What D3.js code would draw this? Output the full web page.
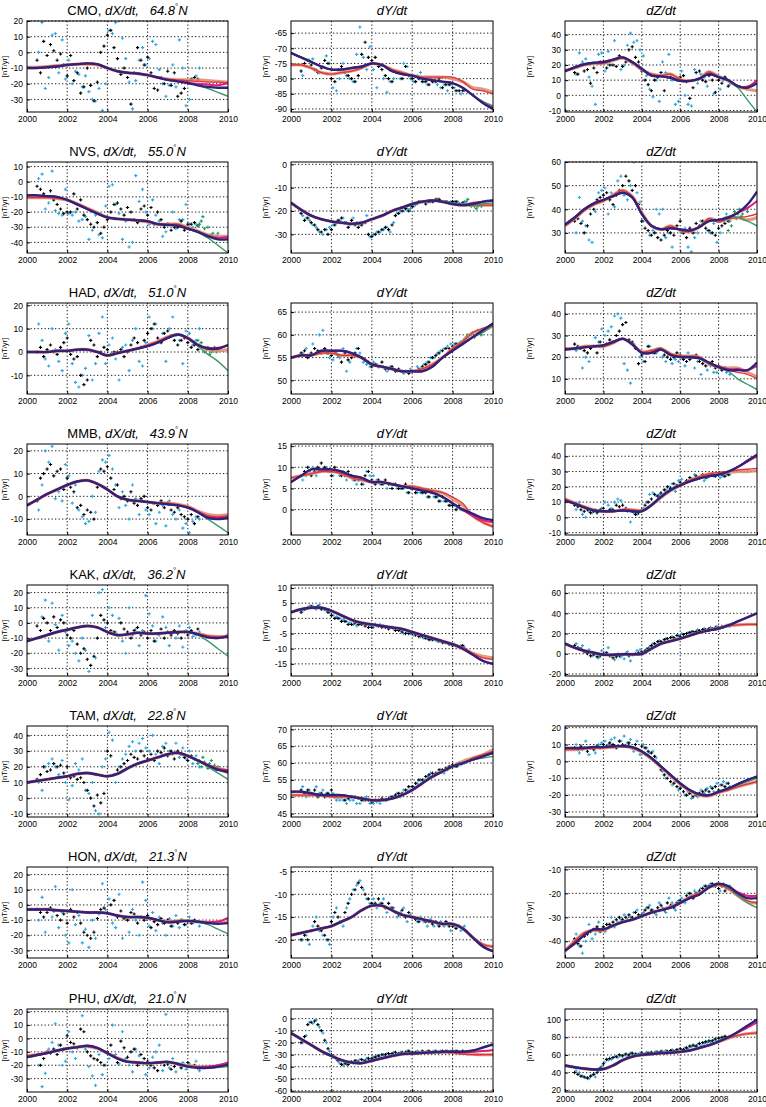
<!DOCTYPE html>
<html><head><meta charset="utf-8">
<script src="https://cdn.jsdelivr.net/npm/d3@7"></script>
<style>
body{margin:0;background:#fff}
svg{display:block}
text{font-family:"Liberation Sans",Arial,Helvetica,sans-serif;white-space:pre}
</style></head><body>
<script>
// ---------------- DATA ----------------
const stations = ["CMO","NVS","HAD","MMB","KAK","TAM","HON","PHU"];
const latitudes = ["64.8","55.0","51.0","43.9","36.2","22.8","21.3","21.0"];
const components = ["dX/dt","dY/dt","dZ/dt"];
const xTicks = [2000,2002,2004,2006,2008,2010];
const knotYears = [2000,2000.5,2001,2001.5,2002,2002.5,2003,2003.5,2004,2004.5,2005,2005.5,2006,2006.5,2007,2007.5,2008,2008.5,2009,2009.5,2010];
const tailYears = [2008,2008.5,2009,2009.5,2010];
const ptTimes = [2000.5,2000.67,2000.83,2001,2001.17,2001.33,2001.5,2001.67,2001.83,2002,2002.17,2002.33,2002.5,2002.67,2002.83,2003,2003.17,2003.33,2003.5,2003.67,2003.83,2004,2004.17,2004.33,2004.5,2004.67,2004.83,2005,2005.17,2005.33,2005.5,2005.67,2005.83,2006,2006.17,2006.33,2006.5,2006.67,2006.83,2007,2007.17,2007.33,2007.5,2007.67,2007.83,2008,2008.17,2008.33,2008.5];
const greenTimes = [2008.5,2008.58,2008.67,2008.75,2008.83,2008.92,2009,2009.08,2009.17,2009.25,2009.33,2009.42,2009.5];

const yDomains = [[-38,20],[-91,-61],[-11,49],[-47,13],[-38,1],[21.5,60],[-18,21],[47,67],[3,45],[-17,23],[-6,15.5],[-11.5,48],[-35,25],[-19,11],[-22,68],[-12,46],[44,71],[-33,21],[-35,25],[-24,-4],[-47,-9],[-40,22],[-61,8],[18,112]];
const yTicks = [[-30,-20,-10,0,10,20],[-90,-85,-80,-75,-70,-65],[-10,0,10,20,30,40],[-40,-30,-20,-10,0,10],[-30,-20,-10,0],[30,40,50,60],[-10,0,10,20],[50,55,60,65],[10,20,30,40],[-10,0,10,20],[0,5,10,15],[-10,0,10,20,30,40],[-30,-20,-10,0,10,20],[-15,-10,-5,0,5,10],[-20,0,20,40,60],[-10,0,10,20,30,40],[45,50,55,60,65,70],[-30,-20,-10,0,10,20],[-30,-20,-10,0,10,20],[-20,-15,-10,-5],[-40,-30,-20,-10],[-30,-20,-10,0,10,20],[-60,-50,-40,-30,-20,-10,0],[20,40,60,80,100]];

const blueLine = [
[-10,-10,-9.5,-9,-8,-7.5,-7,-7.5,-10,-12,-13,-13.5,-14.5,-16,-17.5,-18.5,-19.5,-21,-22,-22.5,-22.5],
[-71.5,-73,-74.5,-76,-77,-77,-76.5,-76,-75,-75.5,-77.5,-78.5,-79,-80,-80.5,-81,-81.5,-83,-85.5,-88,-90],
[16,18.5,20.5,21.5,22,23.5,25,22,17.5,13,12.5,11.5,9.5,9.5,11,14,12,10,6,5,8],
[-9,-9,-9.5,-10,-12,-15,-18,-21,-23.5,-24.5,-25,-25.5,-26,-28,-28.5,-29,-31,-33,-36,-38,-38],
[-16.5,-19.5,-22,-23.5,-24.5,-25,-25.5,-25,-23.5,-22,-20,-18.5,-17,-16,-15.5,-16,-17,-17.5,-17,-16,-15.5],
[33.5,36.5,40,42.5,44,45.5,47,45,38,33,31.5,32,31.5,31,32.5,35,35.5,36.5,38.5,42,47.5],
[0,0,0,0.5,0.5,1,1,0,-1.5,-0.5,0.5,1.5,2.5,4,6,7.5,6,3,1.5,1.5,3],
[55,55.5,55.5,56.5,56.5,56.5,56,55,53.5,53,52.5,52,52,52,53,55,56.5,58,59.5,61,62.5],
[23.5,24,24.5,25,25.5,27,28.5,26,22,22,23.5,21,20,20,19.5,17.5,15.5,14,14,14,17.5],
[-4,-1.5,1,3,5,6.5,7,5.5,3,0,-1.5,-2,-2.5,-3,-3.5,-4,-5,-7,-9.5,-10,-9.5],
[6.5,8,9.5,9.5,9.5,9,8,7.5,6.5,6.5,6,5.5,5,4.5,4,3,1.5,0,-1,-2,-2.5],
[11,9,6.5,4.5,4,4,4.5,4,4,8,13.5,18,21,23.5,25.5,27,28,30,33,37,41],
[-12,-10,-8,-6,-4.5,-3,-2,-3,-6,-8,-7.5,-6.5,-7,-7,-6.5,-6,-6,-7.5,-9.5,-10,-9],
[2,3,3.5,3.5,2.5,1,-0.5,-1.5,-2,-2.5,-3,-3.5,-4.5,-5.5,-6.5,-7.5,-8.5,-10,-12,-14,-15],
[10,6,3,1,-1,-1,-0.5,-0.5,0,5,10,12.5,15,18,21,23,25,28,32,36,40],
[10,11,12,13,14,15.5,16,15,14,15.5,19,22,24,26,28,29,27,24,21,18,17],
[51.5,51.5,51,50.5,50.5,50.5,50,49.5,49,49,49.5,50.5,52,54,56,57.5,59,60,61,62,63],
[8,8,8,8.5,8.5,9,9,8.5,6,2,-3,-8,-13,-17,-19.5,-20,-18,-16,-13.5,-11,-9],
[-3,-3,-3,-3.5,-4,-4.5,-5,-5,-5.5,-7,-8,-8,-8.5,-10,-11.5,-11,-10.5,-11,-12,-12.5,-12],
[-19,-18.5,-18,-17.5,-17,-16,-15,-13.5,-12.5,-12.5,-13.5,-14.5,-15,-15.5,-16,-16.5,-16.5,-17.5,-19.5,-21.5,-22.5],
[-44,-41,-37.5,-35,-35,-33.5,-32,-31,-29.5,-28,-27,-26,-24,-22,-20.5,-17.5,-16,-17,-20,-22,-22],
[-14,-12.5,-11,-9,-7.5,-6.5,-5.5,-7,-11,-15,-17.5,-18,-18.5,-18,-17.5,-19,-21,-22,-22,-21,-19.5],
[-12,-17,-22,-27,-31,-34.5,-36.5,-37,-35,-33,-31,-29.5,-29,-28.5,-28,-27.5,-27.5,-27.5,-26.5,-24,-21.5],
[48,46,44.5,43.5,44,48,54,58,60,61,62,62.5,63.5,65,68,71,75,80,86,93,100]];

const redLine = [
[-9.5,-9.5,-9,-8.5,-8,-7.5,-7.5,-8,-10,-12,-13,-13.5,-14.5,-16,-17,-17.5,-18,-18.5,-19,-19,-19.5],
[-75.5,-75.5,-76.5,-78,-78.5,-78,-77.5,-76.5,-75,-75.5,-77,-78,-79,-79.5,-79.5,-79.5,-79.5,-81,-83.5,-84,-85],
[16,18,20,21,21,23,24.5,21.5,17,14,13,14,10.5,9.5,11,15.5,12,10,6,6,10],
[-10.5,-10.5,-10.5,-11,-12,-14.5,-17.5,-20.5,-23.5,-24.5,-25,-25.5,-26.5,-28,-28,-28,-30.5,-33,-36,-37,-37],
[-16.5,-19.5,-22,-23.5,-24.5,-25,-25.5,-25,-23.5,-22,-20,-18.5,-17,-16,-15.5,-16,-17,-17.5,-17.5,-17.5,-17.5],
[33,36,39.5,42,43.5,46,48,45.5,38.5,33,31.5,33,31,30.5,32.5,36,34.5,36,36.5,37,38],
[0,0,0,0.5,0.5,1,1,0,-1.5,-0.5,0.5,1.5,3,4.5,6.5,7.5,5.5,3,2,2,2.5],
[55,55.5,55.5,56,56,55.5,55.5,55,53.5,53,52.5,52,52,52.5,53.5,55,57,58.5,60.5,61.5,62],
[24,24,25,25,25,26.5,28.5,26,22.5,23,24,21.5,20.5,20.5,20,17,15,14,13,12,10],
[-4,-1.5,1,3,5,6.5,7,5.5,3,0,-1.5,-2,-2.5,-3,-3,-3.5,-4.5,-6.5,-8.5,-9,-8.5],
[7.5,8,8.5,9,9,8.5,7.5,7,6.5,6.5,6,5.5,5.5,5,4.5,4,3,1.5,-1.5,-3,-4],
[12,9.5,7,5,4,4,5,5,4.5,8,13,17.5,21,24,26.5,28.5,29.5,30,31,31.5,32],
[-12,-10,-8,-6,-4.5,-3,-2,-3,-6,-8,-7.5,-6.5,-7,-7,-6.5,-6,-6,-7,-8.5,-9,-9],
[2,3,3.5,3.5,2.5,1,-0.5,-1.5,-2,-2.5,-3,-3.5,-4.5,-5.5,-6.5,-7.5,-8.5,-9.5,-11.5,-13,-13.5],
[10,6,3,1,-1,-1,-0.5,-0.5,0,5,10,12.5,15,18,21,23.5,25.5,27.5,28.5,29,29],
[10,11,12,13,14,15.5,16,15,14,15.5,19,22,24,26,28,28.5,26.5,24,21,19,18],
[50.5,50.5,50.5,50.5,50,50,50,49.5,49,49,49.5,50.5,52,54,56,57.5,59,60,61.5,62.5,63.5],
[7,7,7.5,8,8,8.5,9,8,5.5,1.5,-3.5,-8.5,-13.5,-17.5,-20,-20.5,-18.5,-17,-15,-13.5,-12],
[-3,-3,-3,-3.5,-4,-4.5,-5,-5,-5.5,-7,-8,-8,-8.5,-10,-11,-10.5,-10.5,-11,-11.5,-11,-9],
[-19,-18.5,-18,-17.5,-17,-16,-15,-13.5,-12.5,-12.5,-13.5,-14.5,-15,-15.5,-16,-16.5,-16.5,-17.5,-19.5,-21,-21.5],
[-44,-40,-36.5,-35.5,-35.5,-33.5,-32,-31,-29.5,-28,-27,-25.5,-24,-21.5,-20,-17.5,-16.5,-18,-21,-23,-24],
[-13,-12,-10.5,-9,-7.5,-6.5,-6,-7.5,-11,-14.5,-17,-18,-18.5,-18,-17.5,-19,-20.5,-21,-21,-20,-18.5],
[-12,-17,-22,-27,-31,-34.5,-36.5,-37,-35,-33,-31,-29.5,-29,-28.5,-28,-28,-28.5,-29.5,-30,-30,-30],
[48,46,44.5,43.5,44,48,54,58,60,61,62,62.5,63.5,65,68,71,75,79,82,84,85]];

const orangeTail = [[-17.5,-17.5,-18,-18.5,-19],[-80,-81,-83,-83.5,-84.5],[12.5,9.5,6,4,3],[-30,-32.5,-35,-36,-36],[-17,-17.5,-17.5,-17.5,-17.5],[35,36,36.5,35.5,36.5],[6,3,1,0.5,1],[57,58.5,60.5,61,62],[15.5,15,15,13,11],[-4.5,-6.5,-8,-8.5,-8],[2.5,1,-1.5,-3,-4],[28.5,29.5,30,30,30.5],[-6,-7,-8.5,-9,-9],[-8.5,-10,-11.5,-12.5,-13],[25.5,27.5,28.5,29,29],[27,24,21,19,17.5],[59,60.5,61.5,62.5,64],[-18.5,-17,-15,-13.5,-12],[-10.5,-11,-11.5,-11.5,-11.5],[-16.5,-17.5,-19.5,-21,-21.5],[-16.5,-18,-21,-23.5,-24],[-20.5,-21,-21.5,-21,-20],[-28,-29,-29.5,-30,-30],[75,79,82,84,85]];
const magentaTail = [[-19.5,-20,-20.5,-21,-19.5],[-81.5,-83,-85.5,-88,-89.5],[12,10,6,5.5,10],[-31,-33,-35.5,-37,-36.5],[-17,-17.5,-16.5,-16,-15.5],[35.5,36.5,38.5,40.5,43.5],[6,3,1.5,1.5,3],[56.5,58,59.5,61,62.5],[15.5,14.5,14.5,14,16],[-5,-7,-9,-9.5,-9],[1.5,0,-1.5,-2.5,-3],[28,30,33,36.5,40],[-6,-7.5,-9.5,-10,-8],[-8.5,-10,-12,-14,-15],[25,28,32,36,40],[27,24,21,18.5,16],[59,60,61,62,63],[-18,-16,-13.5,-11,-9],[-10.5,-11,-11.5,-11,-8.5],[-16.5,-17.5,-19.5,-21.5,-22.5],[-16,-17,-19.5,-21,-21],[-21,-21.5,-21,-20,-18],[-27.5,-28,-27.5,-27,-26],[75,80,85.5,91,97]];
const greenTail = [[-19.5,-21,-23,-25.5,-28],[-81.5,-83,-85.5,-87.5,-89],[12,10,5,-3,-11],[-31,-33.5,-37,-42,-47],[-17,-17.5,-17.5,-17,-16.5],[35.5,37,36.5,35,33],[6,2.5,-1,-4,-8],[56.5,58,59.5,60.5,62],[15.5,13.5,10,7.5,5],[-5,-7,-10,-13,-16],[1.5,0,-1.5,-2.5,-3],[28,30,33,36.5,40.5],[-6,-8,-12,-17,-22],[-8.5,-10,-12,-14,-15],[25,28,32,36,40],[27,24,20,16,12],[59,60,61,61.5,62],[-18,-16,-14,-12,-10],[-10.5,-11.5,-13,-16,-19],[-16.5,-17.5,-19.5,-21.5,-22.5],[-16,-17.5,-21,-24,-26],[-21,-22,-22,-21.5,-21],[-27.5,-28,-27.5,-27,-26.5],[75,80,86,93,100]];

const blackPts = [
[-5,-13,7,-2,5,1,-5,-1,-8,-15,-2,-18,-13,-26,-22,-10,-21,-31,-19,0,4,11,14,3,-4,-14,-10,-16,-33,-13,3,-5,-8,-3,-13,-23,-24,-16,-20,-12,-21,-13,-28,-26,-23,-19,-17,-16,-17],
[-77.5,-75,-74,-75.5,-77,-78,-76.5,-74,-75,-80,-81,-77,-76,-78,-79,-80,-81,-79,-72,-68,-73,-74,-73,-76,-77,-79,-80,-81,-77.5,-78,-80,-76,-79,-80,-81,-80,-81,-81,-82,-81,-81,-80,-83,-82,-82,-83,-84,-84,-84],
[15,14,20,16,17,8,18,15,22,22,18,20,20,19,26,19,22,30,32,25,22,16,10,7,3,10,12,15,3,12,12,11,10,12,13,9,-2,5,15,16,10,9,13,10,2,10,8,12,6],
[-3,-5,-8,-10,-6,-12,-15,-18,-21,-20,-20,-8,-18,-12,-22,-25,-28,-30,-27,-34,-30,-25,-20,-15,-14,-18,-22,-17,-20,-25,-27,-18,-16,-22,-17,-28,-20,-25,-30,-28,-32,-30,-30,-26,-32,-28,-28,-27,-29],
[-21,-24,-23,-25,-26,-28,-29,-28,-30,-28,-26,-24,-23,-25,-27,-24,-26,-27,-26,-25,-30,-31,-30,-29,-28,-27,-28,-26,-22,-21,-20,-19,-20,-18,-17,-16,-16,-17,-16,-16,-15,-15,-16,-16,-16.5,-16,-16,-17,-16.5],
[35,36,34,30,33,38,40,44,45,46,47,44,42,46,48,50,54,52,48,50,42,35,32,31,29,30,28,27,29,31,30,29,33,35,30,28,32,30,34,33,35,32,31,30,29,32,33,34,35],
[0,2,-2,1,3,0,-1,2,4,6,-1,-3,-2,-10,-14,-12,5,3,-2,0,2,1,-1,0,0,1,-2,0,3,6,4,2,5,8,10,12,6,4,8,9,7,5,3,5,6,4,2,3,1],
[56,56.5,55,56,57,56.5,56,57,56,55.5,56,55.5,54,56,54.5,55,56,57,55,54.5,54,53,53.5,53,54,52.5,52.5,53,52,52.5,52,52,51.5,52,52,52.5,53,53.5,54,55,55.5,56,56.5,57,57,57.5,58,58,58.5],
[26,25,24,23,22,24,25,22,27,25,26,28,27,30,32,35,36,28,27,24,17,21,18,25,23,22,23,24,21,20,19,20,22,21,19,18,19,20,21,18,17,16,17,18,15,16,14,15,14],
[-2,8,10,12,14,9,11,12,3,8,4,2,-5,-4,-8,-6,-7,-10,4,12,11,13,8,3,5,-1,0,-2,2,-3,-4,-1,0,-5,-6,-3,-4,-2,-5,-3,-6,-7,-5,-8,-9,-10,-8,-12,-9],
[8,9,10,8,9,10,11,10,9,8,10,9,8,8,9,8,7,7,6,8,9,7,6,7,6,7,6,5,6,5,5,6,4,5,4,5,4,4,3,4,3,2,3,2,1,1,0,1,0],
[8,7,5,4,5,3,4,3,5,6,4,5,5,8,7,8,6,5,4,2,3,5,8,10,12,15,14,16,18,20,19,22,21,23,22,24,26,25,27,26,28,26,27,28,27,29,28,27,28],
[-2,-5,3,0,-5,4,-3,2,0,-8,-10,-5,-14,-20,-17,-24,-28,-22,-10,5,2,0,-5,-6,-8,0,-4,-6,-10,-5,-3,-8,-6,-10,-5,-12,-7,-4,-10,-6,-8,-5,-7,-10,-6,-8,-5,-7,-4],
[2,3,3.5,4,3.5,4,3,3,2,1,0,0,-1,-1,-2,-2,-1.5,-2,-2,-2.5,-3,-3,-2,-2.5,-3,-3,-3.5,-3,-4,-4,-4.5,-5,-5,-5,-5.5,-6,-6,-6.5,-7,-7,-7,-7.5,-8,-8,-8.5,-9,-9,-9.5,-9],
[8,6,5,2,0,-2,-1,-3,-2,0,1,-2,-4,-3,-2,-1,0,-2,-1,0,1,2,3,5,8,10,12,12,14,15,16,16,18,17,19,20,21,22,22,23,24,24,25,25,26,26,27,27,28],
[12,15,20,17,18,22,20,21,16,20,13,14,12,13,10,5,0,-5,2,-3,3,30,27,15,18,20,22,24,28,26,25,30,27,25,28,24,30,29,32,27,30,25,30,28,26,24,27,25,24],
[52,51,52,51,52,50,51,50,51,52,50,50,50,49,49.5,50,50,49.5,49,49,49,48.5,49,49,49.5,49,49.5,50,50.5,51,51,52,53,53,54,55,55,56,56.5,57,57,58,58,58.5,59,59.5,59,60,60],
[8,7,9,8,6,8,7,9,8,10,9,11,10,8,12,10,9,11,8,10,7,9,8,6,5,3,-1,-5,-8,-10,-12,-13,-15,-16,-18,-20,-19,-21,-20,-19,-18,-17,-18,-16,-15,-17,-14,-15,-13],
[-3,-5,-8,-5,-2,-4,-7,-10,-6,-12,-3,-8,-5,-12,-18,-20,-22,-18,-9,-3,-2,-5,0,3,-8,-4,-9,-10,-5,-6,-12,-8,-10,-7,-15,-11,-13,-9,-12,-10,-14,-11,-12,-10,-13,-11,-12,-10,-11],
[-20,-19,-20,-18,-16,-17,-18,-19,-20,-16,-14,-15,-16,-14,-12,-10,-9,-7.5,-8.5,-10,-11,-12,-12,-11,-12,-13,-12,-13,-14,-14.5,-13.5,-15,-14,-15,-15.5,-16,-15.5,-16,-16,-16.5,-16,-17,-16.5,-16,-17,-17,-17.5,-17,-17.5],
[-39,-41,-42,-38,-37,-36,-35,-34,-36,-34,-33,-33,-32,-31,-30,-31,-30,-29,-30,-28,-29,-29,-27,-26,-27,-28,-26,-25,-27,-24,-25,-26,-24,-23,-23,-21,-20,-22,-20,-19,-18,-17,-17,-16,-17,-18,-17,-19,-18],
[-12,-20,-15,-10,-11,-8,-12,-5,-8,2,-3,-4,-7,7,5,-10,-13,-15,-16,-18,-20,-10,-5,-13,-18,-2,-7,-14,-10,-8,-20,-12,-15,-17,-20,-22,-24,-18,-20,-19,-23,-21,-19,-22,-20,-18,-21,-20,-22],
[-20,-15,-5,-3,-2,-5,-10,-18,-25,-30,-32,-35,-38,-37,-38,-36,-35,-36,-34,-35,-33,-33,-32,-31,-30,-30,-29,-29,-28,-29,-28,-28,-27,-28,-28,-28,-27,-28,-27,-28,-27,-28,-27,-27,-28,-27,-27,-28,-27],
[40,38,36,35,34,36,38,40,45,50,55,56,57,58,60,59,61,60,62,61,60,62,61,62,63,62,63,64,62,64,65,64,66,67,66,68,70,71,70,73,74,75,76,76,78,79,80,81,80]];

const cyanPts = [
[0,19,-23,-16,11,12,-13,8,-17,-5,-20,-12,-14,-22,-15,-25,-30,-31,-23,-37,-20,14,12,19,20,9,-4,-19,-36,-18,-5,3,-8,-4,7,5,-11,-20,-28,-21,-8,-22,8,-10,-34,-30,-17,-15,-10],
[-79,-76,-74,-73.5,-77,-78,-76,-72.5,-75,-83,-84,-80,-75,-79,-80,-81,-72,-63,-73,-77,-69.5,-77,-83,-76,-80,-84.5,-81,-80,-78,-80,-75,-76,-80,-81,-79,-78,-81,-82,-80,-81,-82,-83,-82,-84,-82,-83,-84,-85,-84],
[14,28,22,24,12,6,-6,27,28,16,29,20,36,24,17,20,33,41,35,36,30,26,13,4,-1,10,-4,22,15,27,10,-6,-4,16,0,-6,-7,17,8,14,12,6,15,1,13,4,10,11,7],
[2,5,-18,-14,7,-19,-21,-22,-5,-21,-22,-20,-26,-25,-23,-38,-32,-22,-35,-37,-16,-3,-2,-15,-21,-38,-26,-43,-40,4,-13,-5,-20,-28,-12,-22,-26,-36,-33,-28,-20,-31,-25,-25,-15,-28,-30,-28,-28],
[-22,-23,-24,-26,-27,-29,-30,-28,-27,-26,-25,-24,-23,-25,-26,-23,-25,-26,-25,-22,-31,-30,-29,-29,-28,-27,-29,-25,-21,-20,-20,-19,-19,-18,-17,-16,-16,-16,-16,-16,-15,-15.5,-16,-16,-16,-16,-16,-17,-16],
[30,45,35,33,27,26,39,47,48,49,38,47,41,52,54,46,44,50,60,47,43,35,21,29,31,40,38,40,28,30,24,21,20,30,32,24,22,28,30,35,34,31,30,34,26,30,35,38,36],
[12,5,-3,-6,10,1,-4,-8,8,12,-5,-13,-15,-10,-7,7,-12,-5,8,15,-5,3,6,-3,-12,2,3,-8,5,10,-4,-6,4,15,10,12,5,8,-4,10,15,7,5,-5,9,8,3,5,10],
[56,57,55.5,58,56,60,61,56,55,54.5,56,55,57,52,54,55.5,57,56,54,53.5,53,54,53.5,53,53,52,53,52.5,52,52,51.5,52,52.5,52,53,52.5,53.5,54,55,55,56,56.5,57,57.5,58,58,58,58.5,59],
[23,24,15,20,18,25,29,27,33,30,32,34,39,40,38,17,14,8,26,24,20,18,22,25,22,22,24,20,18,22,17,19,18,20,16,22,20,15,18,12,18,14,16,13,13,15,15,13,12],
[-6,5,20,15,22,-1,2,-2,14,9,-3,5,-6,-9,-12,-11,0,-7,11,16,15,18,12,5,-5,2,-4,-10,5,-1,-8,-2,-6,-8,-3,-12,-7,-4,-13,-2,-8,-10,-6,-14,-12,-16,-11,-9,-10],
[7,8,9,10,8,9,9.5,10,9,8,9,8,9,7,8,7,6,7,6,9,8,8,7,6,6,5,6,6,5,5,5,4,5,5,4,4,4,3,4,3,3,2,2,2,1,1,0.5,0,0],
[5,10,2,0,4,3,5,4,6,10,8,6,10,12,11,5,4,-3,3,2,4,6,10,15,16,14,15,14,18,20,22,17,24,25,23,24,25,28,26,27,24,26,28,27,28,26,27,29,28],
[-10,4,15,-12,13,-1,-18,5,-6,-15,-12,-20,-25,-10,-18,-32,5,-23,20,22,-3,10,5,-6,3,-12,-20,10,-8,-4,-15,-5,18,6,-2,-12,-8,4,-3,-15,-6,-10,-2,-16,-5,-3,-9,-8,-6],
[2.5,3,4,4,3,4.5,3,2.5,2,1,0.5,0,-0.5,-1,-1.5,-2,-2.5,-2,-1.5,-2,-2.5,-3,-2.5,-2,-2.5,-3,-3,-3.5,-3.5,-4,-5,-4.5,-5,-5.5,-5,-6,-6.5,-6.5,-7,-7,-7.5,-7.5,-8,-8,-8.5,-8.5,-9,-9,-9.5],
[10,5,8,2,4,-2,0,-4,3,1,6,-2,-6,0,-3,-5,2,-7,-1,3,4,0,5,7,10,8,13,11,15,12,17,14,18,20,17,21,22,20,24,22,25,23,26,24,27,25,26,28,27],
[10,5,20,22,25,20,15,24,10,-1,8,22,18,25,5,3,10,-8,-10,20,25,42,37,10,20,25,28,33,36,30,35,38,32,30,40,28,22,33,35,30,28,35,26,32,25,30,22,27,20],
[53,50,52,51,53,51,52,51,50,51,49,49,49,48,49,49,48,48,49,50,48,48,48.5,48,49,49,50,50,51,50,52,52,52,53,54,55,55,56,57,56,57,58,57,58,59,59,59,59.5,60],
[10,5,7,12,4,8,5,10,11,12,10,13,14,9,12,15,11,13,6,12,4,10,8,5,6,2,-2,-6,-10,-8,-14,-12,-17,-15,-20,-18,-22,-19,-21,-17,-19,-16,-15,-18,-13,-14,-12,-13,-15],
[-10,5,-18,-3,-8,12,-15,-5,-20,-25,10,-13,-7,-25,-16,-28,-10,-22,-6,14,-3,4,-12,-15,7,-22,-8,-18,-3,-10,-20,15,3,-14,-5,-17,-8,-12,-20,-9,-14,-7,-15,-10,-13,-8,-12,-11,-14],
[-20,-19,-21,-17,-15,-18,-19,-20,-21,-15,-13,-16,-17,-13,-11,-9,-8,-7,-9,-11,-12,-11,-13,-12,-11,-14,-13,-13,-15,-14,-13,-16,-14.5,-15,-16,-15,-16,-17,-15.5,-17,-16.5,-16,-17,-16.5,-18,-17,-17,-18,-17],
[-37,-42,-45,-40,-33,-39,-37,-32,-35,-36,-33,-30,-34,-32,-31,-29,-31,-30,-28,-27,-30,-28,-26,-25,-27,-29,-24,-26,-28,-22,-24,-27,-23,-22,-24,-20,-21,-19,-20,-18,-17,-18,-16,-17,-16,-19,-16,-18,-17],
[-20,-36,-26,-8,-3,11,-5,-20,-17,5,-10,-15,-6,17,-8,-21,-28,-35,-12,-27,-20,-15,10,-12,-19,5,-15,-20,-25,-8,-13,-18,-27,-22,-14,-10,-5,-24,18,-22,-15,-25,-20,-18,-23,-19,-21,-17,-24],
[-20,-14,-3,-4,-1,-7,-12,-20,-27,-32,-34,-37,-39,-38,-36,-37,-35,-34,-35,-33,-34,-32,-31,-32,-30,-29,-30,-28,-29,-28,-29,-27,-28,-28,-27,-29,-28,-27,-28,-27,-28,-27,-28,-27,-27,-28,-27,-28,-28],
[42,40,36,34,33,37,35,42,47,52,54,55,58,57,59,60,58,62,60,61,62,60,63,62,61,64,62,64,65,63,66,65,64,66,68,67,69,70,72,71,73,74,75,77,76,78,79,80,81]];

const greenPts = [null,null,null,
[-29,-28,-26,-23,-31,-36,-30,-36,-35,-34,-37,-36,-34],
[-17,-17.5,-16,-15,-17,-18,-17,-18,-19,-18,-17,-18,-17],
[31,35,33,37,39,36,38,40,37,38,40,41,39],
[5,3,4,2,0,1,2,-1,0,1,2,0,1],
[58,59,59.5,60,59,60,60.5,59.5,60,61,60.5,60,61],
null,
null,null,null,null,null,null,
[22,24,20,26,23,21,19,22,24,20,21,18,20],
null,null,null,null,null,null,null,null];

// ---------------- DRAW ----------------
const W = 766, H = 1107;
const svg = d3.select("body").append("svg").attr("width", W).attr("height", H);
const colX = [[27,228],[291,493],[565,757]];
const ylabOff = [20,23,33];
const rowY = r => r < 7 ? [21 + r*141, 112 + r*141] : [1009, 1092];
const fmt = d => d < 0 ? "-" + Math.abs(d) : String(d);
const plus = "M-1.6,0H1.6M0,-1.6V1.6";

for (let r = 0; r < 8; r++) {
  for (let c = 0; c < 3; c++) {
    const p = r*3 + c;
    const [x0, x1] = colX[c], [y0, y1] = rowY(r);
    const x = d3.scaleLinear().domain([2000, 2010]).range([x0, x1]);
    const y = d3.scaleLinear().domain(yDomains[p]).range([y1, y0]);
    const g = svg.append("g");
    const cid = "clip" + p;
    svg.append("clipPath").attr("id", cid).append("rect")
      .attr("x", x0).attr("y", y0).attr("width", x1 - x0).attr("height", y1 - y0);

    // grid
    g.append("g").selectAll("line").data(yTicks[p]).join("line")
      .attr("x1", x0).attr("x2", x1).attr("y1", d => y(d)).attr("y2", d => y(d))
      .attr("stroke", "#000").attr("stroke-width", 0.9).attr("stroke-dasharray", "1.3,2.2");
    g.append("g").selectAll("line").data(xTicks.slice(1, -1)).join("line")
      .attr("x1", d => x(d)).attr("x2", d => x(d)).attr("y1", y0).attr("y2", y1)
      .attr("stroke", "#000").attr("stroke-width", 0.9).attr("stroke-dasharray", "1.3,2.2");

    // axes
    const ax = g.append("g").attr("transform", `translate(${x0},0)`)
      .call(d3.axisLeft(y).tickValues(yTicks[p]).tickSize(-3).tickPadding(4).tickFormat(fmt));
    const bx = g.append("g").attr("transform", `translate(0,${y1})`)
      .call(d3.axisBottom(x).tickValues(xTicks).tickSize(-3).tickPadding(4).tickFormat(d3.format("d")));
    [ax, bx].forEach(a => {
      a.select(".domain").remove();
      a.selectAll("text").attr("font-size", 8.5).attr("fill", "#000")
        .attr("font-family", '"Liberation Sans",Arial,sans-serif');
      a.selectAll("line").attr("stroke", "#000");
    });

    const pg = g.append("g").attr("clip-path", `url(#${cid})`);
    // points
    pg.append("g").selectAll("path").data(cyanPts[p]).join("path")
      .attr("d", plus).attr("transform", (d, i) => `translate(${x(ptTimes[i] + 0.08)},${y(d)})`)
      .attr("stroke", "#2aa9e0").attr("stroke-width", 1.1);
    pg.append("g").selectAll("path").data(blackPts[p]).join("path")
      .attr("d", plus).attr("transform", (d, i) => `translate(${x(ptTimes[i])},${y(d)})`)
      .attr("stroke", "#000").attr("stroke-width", 1.1);
    if (greenPts[p]) {
      pg.append("g").selectAll("path").data(greenPts[p]).join("path")
        .attr("d", plus).attr("transform", (d, i) => `translate(${x(greenTimes[i])},${y(d)})`)
        .attr("stroke", "#1f9a5a").attr("stroke-width", 1.1);
    }

    // lines
    const line = d3.line().x(d => x(d[0])).y(d => y(d[1])).curve(d3.curveCatmullRom.alpha(0.5));
    const withTail = (base, tail) => knotYears.slice(0, 16).map((t, i) => [t, base[i]])
      .concat(tailYears.map((t, i) => [t, tail[i]]));
    const full = arr => knotYears.map((t, i) => [t, arr[i]]);
    const series = [
      {d: withTail(redLine[p], orangeTail[p]), c: "#d98a6c", w: 3.2, o: 0.85},
      {d: full(redLine[p]), c: "#e3323c", w: 1.3, o: 1},
      {d: withTail(blueLine[p], greenTail[p]), c: "#3d9a68", w: 1.4, o: 1},
      {d: withTail(blueLine[p], magentaTail[p]), c: "#e5197e", w: 2, o: 1},
      {d: full(blueLine[p]), c: "#2e2378", w: 2.4, o: 1}
    ];
    series.forEach(s => pg.append("path").attr("d", line(s.d)).attr("fill", "none")
      .attr("stroke", s.c).attr("stroke-width", s.w).attr("stroke-opacity", s.o));

    // frame
    g.append("rect").attr("x", x0).attr("y", y0).attr("width", x1 - x0).attr("height", y1 - y0)
      .attr("fill", "none").attr("stroke", "#000").attr("stroke-width", 1);

    // y label
    g.append("text").attr("transform", `translate(${x0 - ylabOff[c]},${(y0 + y1) / 2}) rotate(-90)`)
      .attr("text-anchor", "middle").attr("font-size", 7.5).text("[nT/yr]");

    // title
    const t = g.append("text").attr("x", (x0 + x1) / 2).attr("y", y0 - 6)
      .attr("text-anchor", "middle").attr("font-size", 13);
    if (c === 0) {
      t.append("tspan").text(stations[r] + ", ");
      t.append("tspan").attr("font-style", "italic").text(components[c] + ",");
      t.append("tspan").text("   ");
      t.append("tspan").attr("font-style", "italic").text(latitudes[r]);
      t.append("tspan").attr("font-size", 8).attr("dy", -6).text("°");
      t.append("tspan").attr("font-style", "italic").attr("dy", 6).text("N");
    } else {
      t.append("tspan").attr("font-style", "italic").text(components[c]);
    }
  }
}
</script>
</body></html>
